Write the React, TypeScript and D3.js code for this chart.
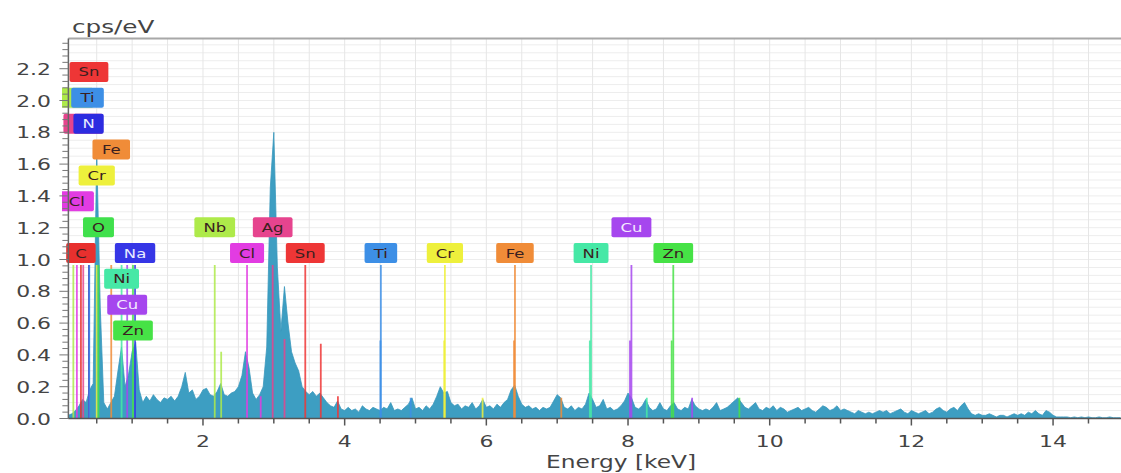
import React from 'react';
import * as d3 from 'd3';

const W = 1121;
const H = 473;

// ---- spectrum (cps/eV), sampled from 0.10 keV every 0.05 keV ----
const specStart = 0.1;
const specStep = 0.05;
const specValues = [
  // 0.10 - 0.55
  0.02, 0.03, 0.05, 0.08, 0.12, 0.1, 0.18, 0.22, 1.68, 0.7,
  // 0.60 - 1.05
  0.1, 0.06, 0.1, 0.14, 0.3, 0.45, 0.2, 0.28, 0.42, 0.48,
  // 1.10 - 1.55
  0.18, 0.1, 0.14, 0.11, 0.15, 0.12, 0.1, 0.13, 0.12, 0.14,
  // 1.60 - 2.05
  0.11, 0.14, 0.2, 0.29, 0.16, 0.18, 0.12, 0.14, 0.18, 0.19,
  // 2.10 - 2.55
  0.15, 0.14, 0.17, 0.22, 0.15, 0.14, 0.16, 0.17, 0.2, 0.27,
  // 2.60 - 3.05
  0.42, 0.32, 0.16, 0.12, 0.15, 0.2, 0.45, 1.45, 1.8, 0.95,
  // 3.10 - 3.55
  0.55, 0.83, 0.6, 0.42, 0.35, 0.3, 0.2, 0.17, 0.15, 0.17,
  // 3.60 - 4.05
  0.14, 0.16, 0.13, 0.1, 0.08, 0.07, 0.11, 0.06, 0.05, 0.07,
  // 4.10 - 4.55
  0.05, 0.06, 0.04, 0.08, 0.06, 0.05, 0.07, 0.06, 0.05, 0.07,
  // 4.60 - 5.05
  0.06, 0.1, 0.05, 0.06, 0.05, 0.07, 0.09, 0.13, 0.06, 0.07,
  // 5.10 - 5.55
  0.05, 0.08, 0.06, 0.09, 0.14, 0.2, 0.16, 0.17, 0.1, 0.08,
  // 5.60 - 6.05
  0.09, 0.06, 0.08, 0.07, 0.1, 0.06, 0.08, 0.12, 0.07, 0.08,
  // 6.10 - 6.55
  0.06, 0.09, 0.07, 0.1, 0.12, 0.18, 0.21, 0.14, 0.09, 0.07,
  // 6.60 - 7.05
  0.08, 0.06, 0.07, 0.05, 0.07, 0.06, 0.07, 0.11, 0.15, 0.13,
  // 7.10 - 7.55
  0.07, 0.06, 0.08, 0.05, 0.07, 0.06, 0.09, 0.16, 0.12, 0.07,
  // 7.60 - 8.05
  0.08, 0.12, 0.06, 0.07, 0.05, 0.06, 0.08, 0.11, 0.16, 0.13,
  // 8.10 - 8.55
  0.07, 0.06, 0.08, 0.12, 0.07, 0.05, 0.06, 0.1, 0.06, 0.05,
  // 8.60 - 9.05
  0.08, 0.1, 0.06, 0.05, 0.07, 0.06, 0.12, 0.08, 0.06, 0.05,
  // 9.10 - 9.55
  0.06, 0.05, 0.07, 0.1, 0.05, 0.06, 0.07, 0.09, 0.11, 0.13,
  // 9.60 - 10.05
  0.1, 0.07, 0.06, 0.08, 0.1, 0.06, 0.05, 0.07, 0.06, 0.08,
  // 10.10 - 10.55
  0.05, 0.07, 0.06, 0.04, 0.05, 0.06, 0.07, 0.05, 0.06, 0.07,
  // 10.60 - 11.05
  0.05, 0.04, 0.06, 0.08, 0.07, 0.05, 0.06, 0.08, 0.05, 0.06,
  // 11.10 - 11.55
  0.05, 0.04, 0.03, 0.05, 0.04, 0.03, 0.04, 0.03, 0.04, 0.05,
  // 11.60 - 12.05
  0.04, 0.05, 0.03, 0.04, 0.05, 0.06, 0.04, 0.03, 0.05, 0.04,
  // 12.10 - 12.55
  0.03, 0.04, 0.05, 0.03, 0.04, 0.06, 0.07, 0.05, 0.04, 0.06,
  // 12.60 - 13.05
  0.07, 0.05, 0.08, 0.1, 0.06, 0.03, 0.02, 0.03, 0.02, 0.02,
  // 13.10 - 13.55
  0.03, 0.02, 0.01, 0.02, 0.02, 0.01, 0.02, 0.03, 0.02, 0.03,
  // 13.60 - 14.05
  0.02, 0.04, 0.03, 0.05, 0.03, 0.02, 0.05, 0.04, 0.02, 0.01,
  // 14.10 - 14.55
  0.01, 0.01, 0.01, 0.005, 0.01, 0.005, 0.01, 0.005, 0.01, 0.005,
  // 14.60 - 14.95
  0.005, 0.01, 0.005, 0.005, 0.01, 0.005, 0.005, 0.005,
];

// ---- element marker lines ----
const lineElements = [
  'Nb', 'C', 'Ag', 'Cl', 'Sn', 'N', 'Ti', 'Cr', 'O', 'Fe', 'Ni', 'Cu', 'Zn', 'Na',
  'Nb', 'Nb', 'Cl', 'Cl', 'Ag', 'Ag', 'Sn', 'Sn', 'Sn',
  'Ti', 'Ti', 'Ti', 'Cr', 'Cr', 'Cr', 'Fe', 'Fe', 'Fe',
  'Ni', 'Ni', 'Ni', 'Cu', 'Cu', 'Cu', 'Zn', 'Zn', 'Zn',
];
const lineEnergies = [
  0.17, 0.277, 0.31, 0.22, 0.39, 0.392, 0.395, 0.5, 0.525, 0.705, 0.851, 0.93, 1.012, 1.041,
  2.166, 2.257, 2.622, 2.815, 2.984, 3.151, 3.444, 3.663, 3.905,
  4.505, 4.511, 4.932, 5.405, 5.415, 5.947, 6.391, 6.404, 7.058,
  7.461, 7.478, 8.265, 8.028, 8.048, 8.905, 8.616, 8.639, 9.572,
];
const lineHeights = [
  0.965, 0.965, 0.965, 0.965, 0.965, 0.965, 0.965, 0.965, 0.965, 0.965, 0.965, 0.965, 0.965, 0.965,
  0.965, 0.42, 0.965, 0.14, 0.965, 0.5, 0.965, 0.47, 0.14,
  0.49, 0.965, 0.13, 0.49, 0.965, 0.13, 0.49, 0.965, 0.13,
  0.49, 0.965, 0.13, 0.49, 0.965, 0.13, 0.49, 0.965, 0.13,
];

// ---- element labels ----
const labelElements = [
  'Nb', 'C', 'Ag', 'Cl', 'Sn', 'N', 'Ti', 'Cr', 'O', 'Fe', 'Ni', 'Cu', 'Zn', 'Na',
  'Nb', 'Cl', 'Ag', 'Sn', 'Ti', 'Cr', 'Fe', 'Ni', 'Cu', 'Zn',
];
const labelEnergies = [
  0.17, 0.277, 0.31, 0.22, 0.39, 0.385, 0.37, 0.5, 0.525, 0.705, 0.851, 0.93, 1.012, 1.041,
  2.166, 2.622, 2.984, 3.444, 4.511, 5.415, 6.404, 7.478, 8.048, 8.639,
];
// stacking level of each label (layout)
const labelLevels = [6, 0, 5, 2, 7, 5, 6, 3, 1, 4, -1, -2, -3, 0, 1, 0, 1, 0, 0, 0, 0, 0, 1, 0];
// labels that are almost entirely hidden behind others (only a coloured sliver shows)
const labelCovered = [0, 2];

const yTickValues = [0, 0.2, 0.4, 0.6, 0.8, 1.0, 1.2, 1.4, 1.6, 1.8, 2.0, 2.2];
const yTickLabels = ['0.0', '0.2', '0.4', '0.6', '0.8', '1.0', '1.2', '1.4', '1.6', '1.8', '2.0', '2.2'];
const xTickValues = [2, 4, 6, 8, 10, 12, 14];
const xTickLabels = ['2', '4', '6', '8', '10', '12', '14'];

const elementColors: Record<string, string> = {
  Sn: '#ee3636',
  Ti: '#3d8fe6',
  N: '#2c2ce0',
  Fe: '#f08c38',
  Cr: '#eef03c',
  Cl: '#e23ce2',
  O: '#40e04c',
  C: '#e8302e',
  Na: '#3636e6',
  Ni: '#46e8a6',
  Cu: '#a646ee',
  Zn: '#46e246',
  Nb: '#aeea4a',
  Ag: '#e6448e',
};
const elementText: Record<string, string> = {
  N: '#e8ecff',
  Na: '#e8ecff',
  Cu: '#f4eaff',
};

const charW: Record<string, number> = {
  S: 0.635, n: 0.634, T: 0.611, i: 0.278, N: 0.748, F: 0.575, e: 0.615, C: 0.698, r: 0.411,
  l: 0.278, O: 0.787, a: 0.613, u: 0.634, Z: 0.685, b: 0.635, A: 0.684, g: 0.635,
};

const FONT = '"DejaVu Sans", Verdana, sans-serif';
const SX = 1.37; // horizontal stretch of the text in the picture

export default function App() {
  const x = d3.scaleLinear().domain([0, 15]).range([61.3, 1123.9]);
  const y = d3.scaleLinear().domain([0, 2.39]).range([418.5, 38.5]);
  const left = x(0.1);
  const right = W;
  const top = y(2.39);
  const bottom = y(0);

  const pts: [number, number][] = specValues.map((v, i) => [specStart + i * specStep, v]);
  const area = d3
    .area<[number, number]>()
    .x((d) => x(d[0]))
    .y0(bottom)
    .y1((d) => y(d[1]))
    .curve(d3.curveLinear);

  const vGrid = d3.range(0.5, 15, 0.5);
  const hGrid = d3.range(1, 48).map((k) => k * 0.05);
  const yMinor = d3.range(0, 60).map((k) => k * 0.04).filter((v) => v <= 2.38);
  const xMinor = d3.range(1, 30).map((k) => k * 0.5);

  const levelY = (lv: number) => 253 - 25.86 * lv;
  const labelWidth = (t: string) => {
    let s = 0;
    for (const c of t) s += charW[c] ?? 0.62;
    return s * 12 * SX + 18;
  };

  return (
    <svg
      width={W}
      height={H}
      style={{ position: 'absolute', left: 0, top: 0, background: '#fff' }}
      fontFamily={FONT}
    >
      <defs>
        <clipPath id="plot">
          <rect x={left} y={top} width={right - left} height={bottom - top} />
        </clipPath>
        <clipPath id="labels">
          <rect x={62} y={top} width={right - 62} height={bottom - top} />
        </clipPath>
      </defs>
      <rect x={0} y={0} width={W} height={H} fill="#fff" />

      {/* grid */}
      <g clipPath="url(#plot)">
        {hGrid.map((v, i) => (
          <line key={'h' + i} x1={left} x2={right} y1={y(v)} y2={y(v)} stroke="#ededed" strokeWidth={1} />
        ))}
        {vGrid.map((v, i) => (
          <line key={'v' + i} x1={x(v)} x2={x(v)} y1={top} y2={bottom} stroke="#e6e6e6" strokeWidth={1} />
        ))}
      </g>

      {/* spectrum */}
      <g clipPath="url(#plot)">
        <path d={area(pts) || ''} fill="#3d9ec2" stroke="#3a98bc" strokeWidth={0.8} />
      </g>

      {/* element lines */}
      <g clipPath="url(#plot)">
        {lineElements.map((el, i) => (
          <line
            key={'l' + i}
            x1={x(lineEnergies[i])}
            x2={x(lineEnergies[i])}
            y1={bottom}
            y2={y(lineHeights[i])}
            stroke={elementColors[el]}
            strokeWidth={1.8}
            strokeOpacity={0.85}
          />
        ))}
      </g>

      {/* labels */}
      <g clipPath="url(#labels)">
        {labelElements.map((el, i) => {
          const w = labelWidth(el);
          const cx = x(labelEnergies[i]);
          const cy = levelY(labelLevels[i]);
          const covered = labelCovered.includes(i);
          return (
            <g key={'lb' + i}>
              <rect x={cx - w / 2} y={cy - 10} width={w} height={20} rx={2} fill={elementColors[el]} />
              {!covered && (
                <text
                  transform={`translate(${cx},${cy + 4.5}) scale(${SX},1)`}
                  textAnchor="middle"
                  fontSize={12}
                  fill={elementText[el] ?? '#3a2020'}
                >
                  {el}
                </text>
              )}
            </g>
          );
        })}
      </g>

      {/* axes */}
      <line x1={left} x2={right} y1={top} y2={top} stroke="#a8a8a8" strokeWidth={2} />
      <line x1={left} x2={left} y1={top} y2={bottom} stroke="#666" strokeWidth={1.5} />
      <line x1={left} x2={right} y1={bottom} y2={bottom} stroke="#555" strokeWidth={1.5} />
      {yMinor.map((v, i) => {
        const major = i % 5 === 0;
        return (
          <line
            key={'ym' + i}
            x1={left - (major ? 9 : 6)}
            x2={left}
            y1={y(v)}
            y2={y(v)}
            stroke="#777"
            strokeWidth={1}
          />
        );
      })}
      {xMinor.map((v, i) => {
        const major = v % 2 === 0;
        return (
          <line
            key={'xm' + i}
            x1={x(v)}
            x2={x(v)}
            y1={bottom}
            y2={bottom + (major ? 7 : 5)}
            stroke="#555"
            strokeWidth={1.5}
          />
        );
      })}

      {yTickValues.map((v, i) => (
        <text
          key={'yt' + i}
          transform={`translate(51,${y(v) + 6}) scale(${SX},1)`}
          textAnchor="end"
          fontSize={16}
          fill="#444"
        >
          {yTickLabels[i]}
        </text>
      ))}
      {xTickValues.map((v, i) => (
        <text
          key={'xt' + i}
          transform={`translate(${x(v)},447) scale(${SX},1)`}
          textAnchor="middle"
          fontSize={16}
          fill="#444"
        >
          {xTickLabels[i]}
        </text>
      ))}

      <text transform={`translate(72,33) scale(${SX},1)`} fontSize={18} fill="#444">
        cps/eV
      </text>
      <text transform={`translate(621,468) scale(${SX},1)`} textAnchor="middle" fontSize={17} fill="#444">
        Energy [keV]
      </text>
    </svg>
  );
}
